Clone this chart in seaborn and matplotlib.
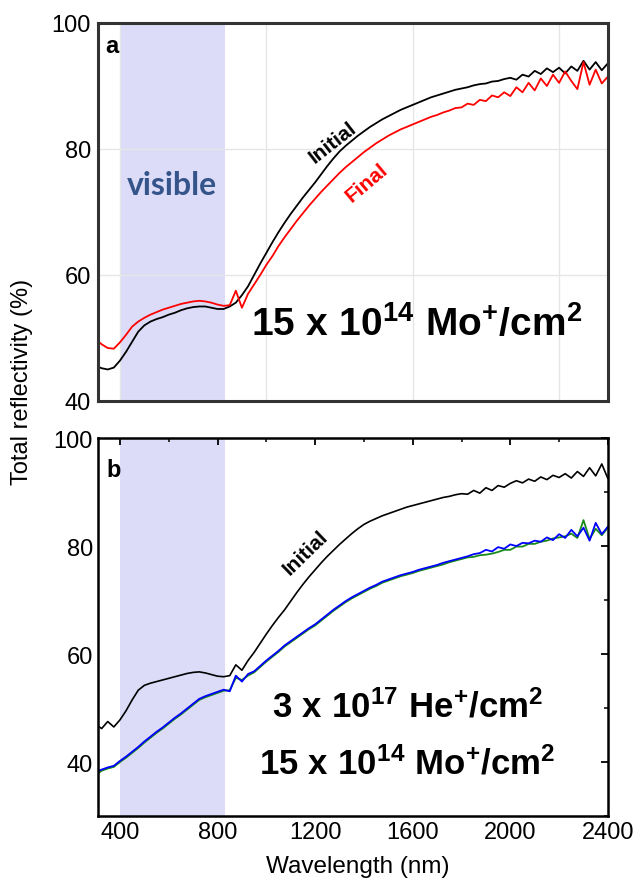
import matplotlib
matplotlib.use("Agg")
import matplotlib.pyplot as plt
import seaborn as sns
import pandas as pd
from matplotlib.ticker import MultipleLocator

# ---- data ----
wavelength = list(range(300, 2401, 25))

a_initial = [45.6, 45.2, 45.0, 45.3, 46.4, 47.8, 49.4, 51.0, 52.0, 52.6,
             53.0, 53.3, 53.7, 54.0, 54.4, 54.7, 54.9, 55.0, 55.0, 54.8,
             54.6, 54.6, 55.0, 55.6, 56.8, 58.2, 60.0, 61.8, 63.5, 65.2,
             66.8, 68.3, 69.7, 71.0, 72.3, 73.5, 74.7, 76.0, 77.3, 78.5,
             79.6, 80.5, 81.3, 82.1, 82.8, 83.5, 84.1, 84.7, 85.2, 85.7,
             86.2, 86.6, 87.0, 87.4, 87.8, 88.2, 88.5, 88.8, 89.1, 89.4,
             89.6, 89.8, 90.1, 90.3, 90.4, 90.7, 90.8, 91.1, 91.3, 91.0,
             91.8, 91.5, 92.4, 91.9, 92.8, 92.2, 92.9, 92.0, 93.1, 92.4,
             94.0, 92.6, 93.8, 92.5, 93.6]

a_final = [49.8, 49.0, 48.4, 48.3, 49.3, 50.5, 51.8, 52.6, 53.2, 53.7,
           54.1, 54.5, 54.8, 55.1, 55.4, 55.6, 55.8, 55.9, 55.8, 55.6,
           55.3, 55.1, 55.2, 57.5, 54.8, 57.0, 58.5, 60.0, 61.6, 63.0,
           64.6, 66.0, 67.3, 68.6, 69.8, 71.0, 72.1, 73.2, 74.2, 75.2,
           76.2, 77.1, 77.9, 78.7, 79.5, 80.2, 80.9, 81.5, 82.1, 82.6,
           83.1, 83.5, 83.9, 84.3, 84.7, 85.1, 85.4, 85.8, 86.1, 86.5,
           86.6, 87.2, 87.0, 87.8, 87.6, 88.5, 88.2, 89.0, 88.4, 89.8,
           89.0, 90.5, 89.3, 91.2, 90.0, 91.8, 90.5, 92.3, 90.8, 89.5,
           93.8, 90.2, 92.6, 90.4, 91.5]

b_initial = [47.0, 46.2, 47.5, 46.5, 47.8, 49.5, 51.5, 53.3, 54.2, 54.6,
             54.9, 55.2, 55.5, 55.8, 56.1, 56.4, 56.6, 56.7, 56.5, 56.2,
             55.9, 55.8, 56.0, 58.0, 57.0, 58.8, 60.3, 62.0, 63.7, 65.3,
             66.8, 68.2, 69.8, 71.4, 72.9, 74.3, 75.6, 76.9, 78.1, 79.2,
             80.3, 81.3, 82.3, 83.2, 84.0, 84.6, 85.1, 85.6, 86.0, 86.4,
             86.8, 87.2, 87.5, 87.8, 88.1, 88.4, 88.7, 89.0, 89.2, 89.5,
             89.7, 89.6, 90.3, 89.8, 90.8, 90.3, 91.2, 90.9, 91.6, 92.1,
             91.7, 92.4, 92.0, 92.8, 92.3, 93.1, 92.7, 93.4, 92.6, 93.8,
             92.9, 94.5, 93.0, 95.2, 92.5]

b_green = [37.5, 38.4, 38.8, 39.1, 40.0, 40.8, 41.7, 42.6, 43.6, 44.5,
           45.4, 46.2, 47.1, 48.0, 48.8, 49.7, 50.6, 51.5, 52.0, 52.4,
           52.8, 53.2, 53.3, 55.6, 55.2, 56.0, 56.6, 57.6, 58.6, 59.5,
           60.4, 61.4, 62.2, 63.0, 63.8, 64.6, 65.3, 66.2, 67.1, 68.0,
           68.8, 69.6, 70.3, 70.9, 71.5, 72.1, 72.6, 73.2, 73.6, 74.0,
           74.4, 74.7, 75.0, 75.4, 75.7, 76.0, 76.3, 76.6, 77.0, 77.3,
           77.6, 77.9, 78.0, 78.3, 78.4, 78.6, 78.9, 79.3, 79.3, 79.9,
           79.9, 80.4, 80.4, 80.8, 81.0, 81.4, 81.6, 81.8, 82.3, 81.5,
           84.8, 81.3, 83.2, 82.0, 83.4]

b_blue = [38.2, 38.6, 39.0, 39.3, 40.2, 41.0, 41.9, 42.8, 43.8, 44.7,
          45.6, 46.4, 47.3, 48.2, 49.0, 49.9, 50.8, 51.7, 52.2, 52.6,
          53.0, 53.4, 53.1, 56.0, 54.9, 56.3, 56.8, 57.8, 58.8, 59.7,
          60.6, 61.6, 62.4, 63.2, 64.0, 64.8, 65.5, 66.4, 67.3, 68.2,
          69.0, 69.8, 70.5, 71.1, 71.7, 72.3, 72.8, 73.4, 73.8, 74.2,
          74.6, 74.9, 75.2, 75.6, 75.9, 76.2, 76.5, 76.9, 77.2, 77.5,
          77.8, 78.1, 78.5, 78.7, 79.3, 79.0, 79.8, 79.5, 80.3, 80.0,
          80.6, 80.5, 81.0, 80.8, 81.6, 81.1, 82.2, 81.5, 83.0, 81.8,
          83.4, 81.0, 84.3, 82.2, 83.6]

visible_band = (400, 830)

df_a = pd.DataFrame({"wl": wavelength, "Initial": a_initial, "Final": a_final})
df_b = pd.DataFrame({"wl": wavelength, "Initial": b_initial,
                     "green": b_green, "blue": b_blue})

# ---- style ----
sns.set_style("white")
plt.rcParams["font.family"] = ["Liberation Sans", "DejaVu Sans"]
plt.rcParams["text.color"] = "black"
plt.rcParams["axes.labelcolor"] = "black"
plt.rcParams["xtick.color"] = "black"
plt.rcParams["ytick.color"] = "black"
plt.rcParams["mathtext.fontset"] = "custom"
plt.rcParams["mathtext.rm"] = "Liberation Sans:bold"
plt.rcParams["mathtext.bf"] = "Liberation Sans:bold"
plt.rcParams["mathtext.it"] = "Liberation Sans:bold"

fig = plt.figure(figsize=(6.35, 8.79), dpi=100)
ax1 = fig.add_axes([0.1543, 0.5427, 0.803, 0.430])
ax2 = fig.add_axes([0.1543, 0.0705, 0.803, 0.430])

shade = "#dcdcf8"

# ---- panel a ----
ax1.axvspan(*visible_band, color=shade, zorder=0, lw=0)
sns.lineplot(data=df_a, x="wl", y="Initial", color="black", lw=1.3, ax=ax1)
sns.lineplot(data=df_a, x="wl", y="Final", color="#ff0000", lw=1.3, ax=ax1)
ax1.set_xlim(310, 2400)
ax1.set_ylim(40, 100)
ax1.set_xticks([400, 1000, 1600, 2200])
ax1.set_xticklabels([])
ax1.set_yticks([40, 60, 80, 100])
ax1.grid(True, color="#e6e6e6", lw=1)
ax1.set_axisbelow(True)
ax1.tick_params(length=0, labelsize=17, pad=5, labelcolor="black")
ax1.set_xlabel("")
ax1.set_ylabel("")
for s in ax1.spines.values():
    s.set_color("#333333")
    s.set_linewidth(2.2)

ax1.text(340, 96.5, "a", fontsize=17, fontweight="bold", va="center")
ax1.text(613, 74.4, "visible", fontsize=23, fontweight="bold",
         color="#34548a", ha="center", va="center", family="Lato")
ax1.text(1272, 81.2, "Initial", fontsize=15, fontweight="bold",
         rotation=38, ha="center", va="center")
ax1.text(1412, 74.7, "Final", fontsize=15, fontweight="bold", color="#ff0000",
         rotation=40, ha="center", va="center")
ax1.text(1618, 52.3, r"$\mathbf{15\ x\ 10^{14}\ Mo^{+}/cm^{2}}$",
         fontsize=28, ha="center", va="center")

# ---- panel b ----
ax2.axvspan(*visible_band, color=shade, zorder=0, lw=0)
sns.lineplot(data=df_b, x="wl", y="Initial", color="black", lw=1.2, ax=ax2)
sns.lineplot(data=df_b, x="wl", y="green", color="#1a8a1a", lw=1.3, ax=ax2)
sns.lineplot(data=df_b, x="wl", y="blue", color="#0000ff", lw=1.3, ax=ax2)
ax2.set_xlim(310, 2400)
ax2.set_ylim(30, 100)
ax2.xaxis.set_major_locator(MultipleLocator(400))
ax2.xaxis.set_minor_locator(MultipleLocator(200))
ax2.set_yticks([40, 60, 80, 100])
ax2.yaxis.set_minor_locator(MultipleLocator(10))
ax2.tick_params(which="both", direction="in", top=True, right=True,
                labelsize=17, color="black", labelcolor="black")
ax2.tick_params(which="major", length=5, width=1.3)
ax2.tick_params(which="minor", length=3, width=1.1)
ax2.set_xlabel("")
ax2.set_ylabel("")
for s in ax2.spines.values():
    s.set_color("black")
    s.set_linewidth(1.8)

ax2.text(345, 94.2, "b", fontsize=17, fontweight="bold", va="center")
ax2.text(1159, 78.8, "Initial", fontsize=15, fontweight="bold",
         rotation=44, ha="center", va="center")
ax2.text(1577, 50.3, r"$\mathbf{3\ x\ 10^{17}\ He^{+}/cm^{2}}$",
         fontsize=25, ha="center", va="center")
ax2.text(1577, 39.8, r"$\mathbf{15\ x\ 10^{14}\ Mo^{+}/cm^{2}}$",
         fontsize=25, ha="center", va="center")

fig.text(0.035, 0.566, "Total reflectivity (%)", rotation=90,
         ha="center", va="center", fontsize=17)
fig.text(0.564, 0.0137, "Wavelength (nm)", ha="center", va="center",
         fontsize=17.5)

fig.savefig("out.png", dpi=100)
